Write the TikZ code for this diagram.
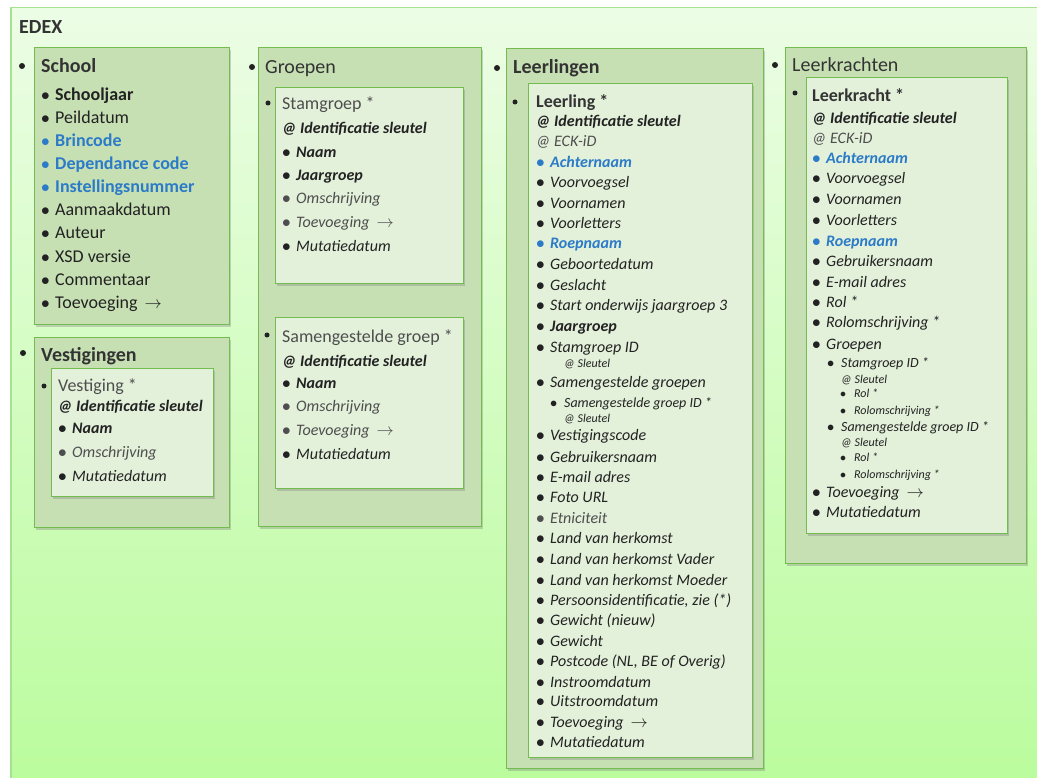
\documentclass[tikz,border=0pt]{standalone}
\usepackage{fontspec}
\setmainfont{Carlito}
\usetikzlibrary{shadows}

\definecolor{ink}{HTML}{222222}
\definecolor{headink}{HTML}{333333}
\definecolor{dim}{HTML}{4E4E4E}
\definecolor{blu}{HTML}{2B7BC8}
\definecolor{catfill}{HTML}{C6E0B4}
\definecolor{itemfill}{HTML}{E3F0DA}
\definecolor{boxline}{HTML}{72BC50}
\definecolor{edexline}{HTML}{A6E28F}
\definecolor{bgtop}{HTML}{ECFDE5}
\definecolor{bgbot}{HTML}{B9FC9B}

\newcommand{\bl}{\makebox[14pt][l]{$\bullet$}}
\newcommand{\toev}{Toevoeging\hspace{7pt}$\rightarrow$}

\tikzset{
  catbox/.style={rectangle, draw=boxline, line width=1.4pt, fill=catfill, anchor=north west, inner sep=0pt,
    drop shadow={shadow xshift=1pt, shadow yshift=-2pt, opacity=.35}},
  itembox/.style={catbox, fill=itemfill},
  dot/.style={circle, fill=ink, inner sep=0pt, minimum size=#1},
  dot/.default=5pt,
  txt/.style={anchor=base west, inner sep=0pt, text=ink, yshift=-.3*#1pt, font=\fontsize{#1pt}{#1pt}\selectfont},
  txt/.default=16,
  itm/.style={txt=#1, font=\fontsize{#1pt}{#1pt}\selectfont\itshape},
  itm/.default=16,
  head/.style={txt=20, text=headink}
}

\begin{document}
\begin{tikzpicture}[x=1pt, y=-1pt]
\clip (0,0) rectangle (1037,778);

\node[draw=edexline, line width=1.5pt, top color=bgtop, bottom color=bgbot, anchor=north west,
  minimum width=1045pt, minimum height=795pt, inner sep=0pt] (edex) at (10,7) {};
\node[head, font=\fontsize{20pt}{20pt}\selectfont\bfseries] (edex-t) at (19,28) {EDEX};

\node[catbox, minimum width=195pt, minimum height=277pt] (school) at (34,47) {};
\node[catbox, minimum width=195pt, minimum height=190pt] (vestigingen) at (34,337) {};
\node[itembox, minimum width=162pt, minimum height=128pt] (vestiging) at (51,368) {};
\node[catbox, minimum width=223pt, minimum height=479pt] (groepen) at (258,47) {};
\node[itembox, minimum width=188pt, minimum height=196pt] (stamgroep) at (275,87) {};
\node[itembox, minimum width=188pt, minimum height=171pt] (samgroep) at (275,317) {};
\node[catbox, minimum width=257pt, minimum height=720pt] (leerlingen) at (506,48) {};
\node[itembox, minimum width=224pt, minimum height=674pt] (leerling) at (528,83) {};
\node[catbox, minimum width=241pt, minimum height=516pt] (leerkrachten) at (785,47) {};
\node[itembox, minimum width=201pt, minimum height=456pt] (leerkracht) at (806,77) {};

\node[dot=6pt] (school-dot) at (22,66) {};
\node[dot=6pt] (vest-dot) at (23,353) {};
\node[dot=6pt] (groep-dot) at (252,67) {};
\node[dot=6pt] (lln-dot) at (497,68) {};
\node[dot=6pt] (lkr-dot) at (775,65) {};
\node[dot] (ves-dot) at (44,386) {};
\node[dot] (stam-dot) at (268,103) {};
\node[dot] (samg-dot) at (267,335) {};
\node[dot] (ll-dot) at (515,102) {};
\node[dot] (lk-dot) at (795,93) {};

\node[head, font=\fontsize{20pt}{20pt}\selectfont\bfseries] (school-t) at (41,67) {School};
\node[head, font=\fontsize{20pt}{20pt}\selectfont\bfseries] (vestigingen-t) at (41,356) {Vestigingen};
\node[head] (groepen-t) at (265,68) {Groepen};
\node[head, font=\fontsize{20pt}{20pt}\selectfont\bfseries] (leerlingen-t) at (513,68) {Leerlingen};
\node[head] (leerkrachten-t) at (792,66) {Leerkrachten};

\foreach \clr/\lbl [count=\k] in {ink/{\bfseries Schooljaar}, ink/Peildatum, blu/{\bfseries Brincode},
    blu/{\bfseries Dependance code}, blu/{\bfseries Instellingsnummer}, ink/Aanmaakdatum, ink/Auteur,
    ink/XSD versie, ink/Commentaar, ink/\toev}
  \node[txt=18, text=\clr] (school-\k) at (41,{95+23.1*(\k-1)}) {\bl\lbl};

\node[txt=18, text=dim] (vestiging-t) at (58,386) {Vestiging *};
\node[itm, font=\fontsize{16pt}{16pt}\selectfont\bfseries\itshape] (vestiging-key) at (58,407) {@ Identificatie sleutel};
\foreach \y/\clr/\lbl [count=\k] in {429/ink/{\bfseries Naam}, 453/dim/Omschrijving, 477/ink/Mutatiedatum}
  \node[itm, text=\clr] (vestiging-\k) at (58,\y) {\bl\lbl};

\node[txt=18, text=dim] (stamgroep-t) at (282,104) {Stamgroep *};
\node[itm, font=\fontsize{16pt}{16pt}\selectfont\bfseries\itshape] (stamgroep-key) at (282,129) {@ Identificatie sleutel};
\foreach \y/\clr/\lbl [count=\k] in {153/ink/{\bfseries Naam}, 176/ink/{\bfseries Jaargroep}, 199/dim/Omschrijving,
    223/dim/\toev, 247/ink/Mutatiedatum}
  \node[itm, text=\clr] (stamgroep-\k) at (282,\y) {\bl\lbl};

\node[txt=18, text=dim] (samgroep-t) at (282,337) {Samengestelde groep *};
\node[itm, font=\fontsize{16pt}{16pt}\selectfont\bfseries\itshape] (samgroep-key) at (282,362) {@ Identificatie sleutel};
\foreach \y/\clr/\lbl [count=\k] in {384/ink/{\bfseries Naam}, 407/dim/Omschrijving, 431/dim/\toev, 455/ink/Mutatiedatum}
  \node[itm, text=\clr] (samgroep-\k) at (282,\y) {\bl\lbl};

\node[txt=18, text=headink, font=\fontsize{18pt}{18pt}\selectfont\bfseries] (leerling-t) at (536,102) {Leerling *};
\node[itm, font=\fontsize{16pt}{16pt}\selectfont\bfseries\itshape] (leerling-key) at (536,122) {@ Identificatie sleutel};
\node[itm, text=dim] (leerling-eck) at (536,142) {@ ECK-iD};
\foreach \y/\clr/\lbl [count=\k] in {163/blu/{\bfseries Achternaam}, 183/ink/Voorvoegsel, 204/ink/Voornamen,
    224/ink/Voorletters, 244/blu/{\bfseries Roepnaam}, 265/ink/Geboortedatum, 286/ink/Geslacht,
    306/ink/Start onderwijs jaargroep 3, 327/ink/{\bfseries Jaargroep}, 348/ink/Stamgroep ID,
    383/ink/Samengestelde groepen, 436/ink/Vestigingscode, 458/ink/Gebruikersnaam, 478/ink/E-mail adres,
    498/ink/Foto URL, 519/dim/Etniciteit, 539/ink/Land van herkomst, 560/ink/Land van herkomst Vader,
    581/ink/Land van herkomst Moeder, 601/ink/{Persoonsidentificatie, zie (*)}, 621/ink/Gewicht (nieuw),
    642/ink/Gewicht, 662/ink/{Postcode (NL, BE of Overig)}, 683/ink/Instroomdatum, 702/ink/Uitstroomdatum,
    723/ink/\toev, 743/ink/Mutatiedatum}
  \node[itm, text=\clr] (leerling-\k) at (536,\y) {\bl\lbl};
\node[itm=12] (leerling-sl1) at (564,364) {@ Sleutel};
\node[itm=14] (leerling-sg) at (550,403) {\bl Samengestelde groep ID *};
\node[itm=12] (leerling-sl2) at (564,419) {@ Sleutel};

\node[txt=18, text=headink, font=\fontsize{18pt}{18pt}\selectfont\bfseries] (leerkracht-t) at (812,96) {Leerkracht *};
\node[itm, font=\fontsize{16pt}{16pt}\selectfont\bfseries\itshape] (leerkracht-key) at (812,119) {@ Identificatie sleutel};
\node[itm, text=dim] (leerkracht-eck) at (812,139) {@ ECK-iD};
\foreach \y/\clr/\lbl [count=\k] in {159/blu/{\bfseries Achternaam}, 179/ink/Voorvoegsel, 200/ink/Voornamen,
    221/ink/Voorletters, 242/blu/{\bfseries Roepnaam}, 262/ink/Gebruikersnaam, 283/ink/E-mail adres,
    303/ink/Rol *, 323/ink/Rolomschrijving *, 345/ink/Groepen, 493/ink/\toev, 513/ink/Mutatiedatum}
  \node[itm, text=\clr] (leerkracht-\k) at (812,\y) {\bl\lbl};
\foreach \y/\lbl [count=\k] in {363/Stamgroep ID *, 427/Samengestelde groep ID *}
  \node[itm=14] (lk-groep-\k) at (827,\y) {\bl\lbl};
\foreach \y [count=\k] in {380,443}
  \node[itm=12] (lk-sleutel-\k) at (841,\y) {@ Sleutel};
\foreach \y/\lbl [count=\k] in {394/Rol *, 411/Rolomschrijving *, 458/Rol *, 475/Rolomschrijving *}
  \node[itm=12] (lk-rol-\k) at (840,\y) {\bl\lbl};
\end{tikzpicture}
\end{document}
